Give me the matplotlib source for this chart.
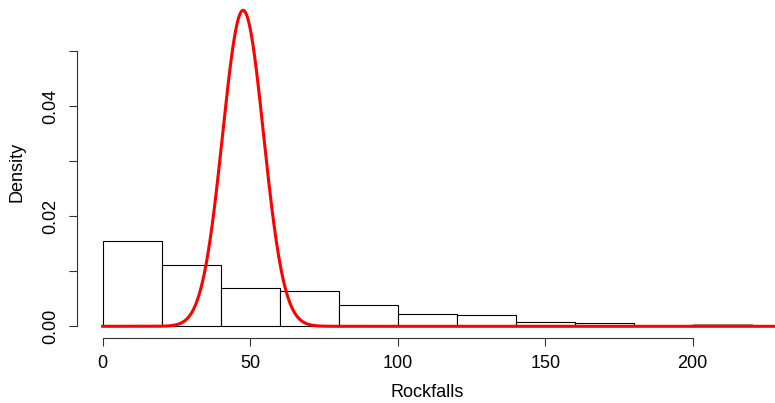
import numpy as np
import matplotlib
matplotlib.use("Agg")
import matplotlib.pyplot as plt

# Histogram data (density per bin of width 20)
bin_edges = [0, 20, 40, 60, 80, 100, 120, 140, 160, 180, 200, 220]
densities = [0.01558, 0.01121, 0.00703, 0.00648, 0.00388, 0.00218,
             0.00200, 0.00079, 0.00067, 0.0, 0.00035]

# Normal curve parameters
curve_mean = 47.6
curve_sd = 6.95

x_ticks = [0, 50, 100, 150, 200]
y_ticks = [0.00, 0.01, 0.02, 0.03, 0.04, 0.05]
y_labels = ["0.00", "", "0.02", "", "0.04", ""]

plt.rcParams['font.family'] = ['Liberation Sans', 'DejaVu Sans']

W, H = 775, 403
fig = plt.figure(figsize=(W / 100, H / 100), dpi=100)
left_px, right_px = 76.7, 777.7
top_px, bottom_px = 5.9, 338.3
ax = fig.add_axes([left_px / W, 1 - bottom_px / H,
                   (right_px - left_px) / W, (bottom_px - top_px) / H])

ax.set_xlim(-8.8, 228.8)
ax.set_ylim(-0.00218, 0.0582)

lefts = np.array(bin_edges[:-1])
widths = np.diff(bin_edges)
ax.bar(lefts, densities, width=widths, align='edge', facecolor='white',
       edgecolor='black', linewidth=0.8)
# last (tiny) bar drawn in grey like the reference
ax.patches[-1].set_edgecolor('#999999')

xs = np.linspace(0, 232, 1200)
ys = np.exp(-0.5 * ((xs - curve_mean) / curve_sd) ** 2) / (curve_sd * np.sqrt(2 * np.pi))
ax.plot(xs, ys, color='red', linewidth=2.2, clip_on=False, zorder=5)

for s in ['top', 'right']:
    ax.spines[s].set_visible(False)
ax.spines['left'].set_bounds(0, 0.05)
ax.spines['bottom'].set_bounds(0, 200)
for s in ['left', 'bottom']:
    ax.spines[s].set_linewidth(0.8)
    ax.spines[s].set_color('#333333')

ax.set_xticks(x_ticks)
ax.set_xticklabels([str(t) for t in x_ticks])
ax.set_yticks(y_ticks)
ax.set_yticklabels(y_labels, rotation=90, va='center')
ax.tick_params(axis='both', direction='out', length=5.8, width=0.8,
               color='#333333', labelsize=13)
ax.tick_params(axis='x', pad=6)
ax.tick_params(axis='y', pad=7)

ax.set_xlabel("Rockfalls", fontsize=13, labelpad=9)
ax.set_ylabel("Density", fontsize=13, labelpad=12)

fig.savefig("out.png", dpi=100)
